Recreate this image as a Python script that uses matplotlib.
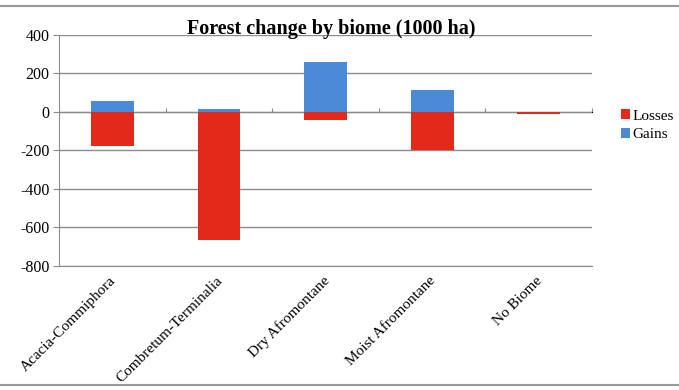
import matplotlib.pyplot as plt
import matplotlib.transforms as mtransforms
import numpy as np

biomes = ["Acacia-Commiphora", "Combretum-Terminalia", "Dry Afromontane",
          "Moist Afromontane", "No Biome"]
losses = [-176, -665, -45, -200, -12]
gains = [55, 14, 260, 111, 0]

plt.rcParams["font.family"] = ["Liberation Serif", "DejaVu Serif"]
plt.rcParams["axes.unicode_minus"] = False

fig = plt.figure(figsize=(6.79, 3.90), dpi=100)
ax = fig.add_axes([0.087, 0.319, 0.785, 0.592])

x = np.arange(len(biomes))
ax.bar(x, losses, width=0.4, color="#e2291a", label="Losses", zorder=3)
ax.bar(x, gains, width=0.4, color="#4a8ad6", label="Gains", zorder=3)

ax.set_ylim(-800, 400)
ax.set_xlim(-0.5, len(biomes) - 0.5)
ax.set_yticks(np.arange(-800, 401, 200))
ax.yaxis.grid(True, color="#8c8c8c", linewidth=1)
ax.set_axisbelow(True)
ax.tick_params(axis="y", labelsize=11.5, length=4, color="#8c8c8c", pad=3)

ax.set_xticks(x)
ax.set_xticklabels(biomes, rotation=45, ha="right", rotation_mode="anchor", fontsize=11)
ax.tick_params(axis="x", length=0, pad=4)
shift = mtransforms.ScaledTranslation(-0.03, -0.03, fig.dpi_scale_trans)
for lbl in ax.get_xticklabels():
    lbl.set_transform(lbl.get_transform() + shift)

for side in ["top", "right"]:
    ax.spines[side].set_visible(False)
ax.spines["left"].set_color("#8c8c8c")
ax.spines["bottom"].set_color("#8c8c8c")

# zero line with category boundary ticks
sec = ax.secondary_xaxis(800 / 1200)
sec.set_xticks(np.arange(len(biomes)) + 0.5)
sec.set_xticklabels([])
sec.tick_params(length=3, color="#8c8c8c")
sec.spines["bottom"].set_color("#8c8c8c")

fig.text(0.488, 0.925, "Forest change by biome (1000 ha)", ha="center", va="center",
         fontsize=14.5, fontweight="bold")

ax.legend(loc="upper left", bbox_to_anchor=(0.905, 0.735), bbox_transform=fig.transFigure,
          frameon=False, fontsize=11, handlelength=0.6, handleheight=0.6,
          handletextpad=0.2, labelspacing=0.35, borderaxespad=0)

# picture border lines
fig.add_artist(plt.Line2D([0, 1], [0.985, 0.985], color="#999999", linewidth=1.5))
fig.add_artist(plt.Line2D([0, 1], [0.012, 0.012], color="#999999", linewidth=1.5))

fig.savefig("out.png", dpi=100)
